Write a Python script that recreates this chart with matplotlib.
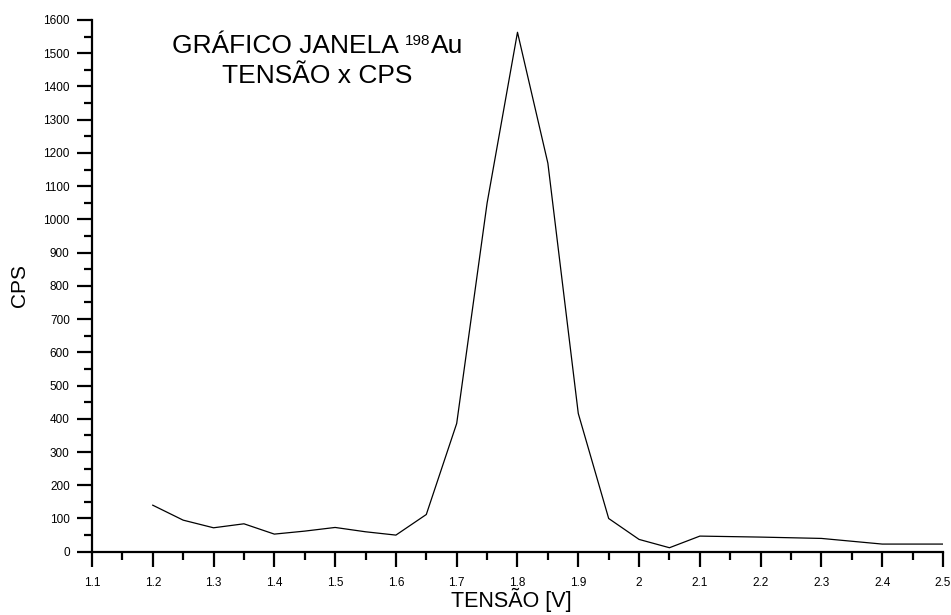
import matplotlib
matplotlib.use("Agg")
import matplotlib.pyplot as plt
from matplotlib.ticker import MultipleLocator, FormatStrFormatter
from matplotlib.transforms import offset_copy

plt.rcParams['font.family'] = ['Liberation Sans', 'DejaVu Sans']

# tensão [V] x contagens por segundo
tensao = [1.2, 1.25, 1.3, 1.35, 1.4, 1.45, 1.5, 1.55, 1.6, 1.65, 1.7, 1.75,
          1.8, 1.85, 1.9, 1.95, 2.0, 2.05, 2.1, 2.2, 2.3, 2.4, 2.5]
cps = [140, 95, 72, 84, 53, 62, 73, 60, 50, 112, 386, 1049,
       1563, 1169, 416, 100, 37, 12, 47, 44, 40, 23, 23]

titulo1 = ["GRÁFICO JANELA ", "198", "Au"]
titulo2 = "TENSÃO x CPS"

fig = plt.figure(figsize=(9.51, 6.15), dpi=100)
ax = fig.add_axes([0.0967, 0.1029, 0.8949, 0.8646])

ax.plot(tensao, cps, color="black", lw=0.9)

ax.set_xlim(1.1, 2.5)
ax.set_ylim(0, 1600)

ax.spines["top"].set_visible(False)
ax.spines["right"].set_visible(False)
for s in ("left", "bottom"):
    ax.spines[s].set_linewidth(1.6)

ax.xaxis.set_major_locator(MultipleLocator(0.1))
ax.xaxis.set_minor_locator(MultipleLocator(0.05))
ax.xaxis.set_major_formatter(FormatStrFormatter("%g"))
ax.yaxis.set_major_locator(MultipleLocator(100))
ax.yaxis.set_minor_locator(MultipleLocator(50))

ax.tick_params(axis="both", which="major", length=11, width=1.6, labelsize=8.5)
ax.tick_params(axis="both", which="minor", length=6, width=1.6)
ax.tick_params(axis="x", which="major", pad=7)
ax.tick_params(axis="y", which="major", pad=5)

ax.set_ylabel("CPS", fontsize=15)
ax.yaxis.set_label_coords(-0.074, 0.5)
fig.text(0.538, 0.013, "TENSÃO [V]", fontsize=15.5, ha="center", va="baseline")

# title line 1 in three pieces so the isotope number sits as a superscript
renderer = fig.canvas.get_renderer()
sizes = [19, 11, 19]
rises = [0, 8, 0]  # px above the baseline
pieces = []
for txt, fs, rise in zip(titulo1, sizes, rises):
    t = fig.text(0, 0.9138, txt, fontsize=fs, ha="left", va="baseline")
    pieces.append((t, rise))
widths = [t.get_window_extent(renderer).width for t, _ in pieces]
x0 = 0.334 * fig.bbox.width - sum(widths) / 2
for (t, rise), w in zip(pieces, widths):
    t.set_x(x0 / fig.bbox.width)
    t.set_transform(offset_copy(fig.transFigure, fig=fig, x=0, y=rise, units="dots"))
    x0 += w
fig.text(0.334, 0.865, titulo2, fontsize=19, ha="center", va="baseline")

fig.savefig("out.png", dpi=100)
